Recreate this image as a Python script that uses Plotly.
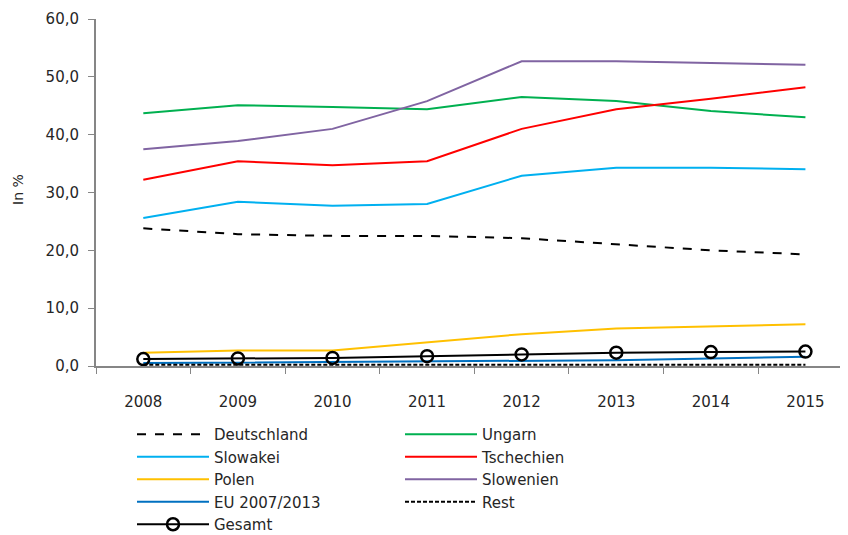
import plotly.graph_objects as go

years = ['2008', '2009', '2010', '2011', '2012', '2013', '2014', '2015']

deutschland = [23.8, 22.8, 22.5, 22.5, 22.1, 21.0, 20.0, 19.3]
ungarn = [43.7, 45.1, 44.8, 44.4, 46.5, 45.8, 44.1, 43.0]
slowakei = [25.6, 28.4, 27.7, 28.0, 32.9, 34.3, 34.3, 34.0]
tschechien = [32.2, 35.4, 34.7, 35.4, 41.0, 44.4, 46.2, 48.2]
polen = [2.3, 2.7, 2.7, 4.1, 5.5, 6.5, 6.9, 7.2]
slowenien = [37.5, 38.9, 41.0, 45.8, 52.7, 52.7, 52.4, 52.1]
eu_2007_2013 = [0.5, 0.6, 0.7, 0.8, 0.9, 1.0, 1.3, 1.6]
rest = [0.2, 0.2, 0.2, 0.2, 0.2, 0.2, 0.2, 0.2]
gesamt = [1.2, 1.3, 1.4, 1.7, 2.0, 2.3, 2.4, 2.5]

series = [
    ('Deutschland', deutschland, '#000000', 'dash'),
    ('Ungarn', ungarn, '#00B050', 'solid'),
    ('Slowakei', slowakei, '#00B0F0', 'solid'),
    ('Tschechien', tschechien, '#FF0000', 'solid'),
    ('Polen', polen, '#FFC000', 'solid'),
    ('Slowenien', slowenien, '#8064A2', 'solid'),
    ('EU 2007/2013', eu_2007_2013, '#0070C0', 'solid'),
    ('Rest', rest, '#000000', '4px,2px'),
]

FONT = 'DejaVu Sans'
TXT = '#262626'

# page body adds an 8px offset, so the figure is 8px smaller than the window
W, H = 840, 527

fig = go.Figure()
for name, vals, col, dash in series:
    fig.add_trace(go.Scatter(
        x=years, y=vals, name=name, mode='lines',
        line=dict(color=col, width=2, dash=dash),
    ))

fig.add_trace(go.Scatter(
    x=years, y=gesamt, name='Gesamt', mode='lines+markers',
    line=dict(color='#000000', width=2),
    marker=dict(symbol='circle-open', size=12, color='#000000', line=dict(width=2.5)),
))

fig.update_layout(
    width=W, height=H,
    margin=dict(l=88, r=0, t=11, b=169),
    paper_bgcolor='white', plot_bgcolor='white',
    font=dict(family=FONT, size=15, color=TXT),
    separators=', ',
    showlegend=True,
    legend=dict(
        orientation='h',
        xref='container', yref='container',
        x=124 / W, y=1 - 410 / H,
        xanchor='left', yanchor='top',
        entrywidth=181, entrywidthmode='pixels',
        itemwidth=72,
        tracegroupgap=0,
        font=dict(family=FONT, size=15, color=TXT),
        bgcolor='rgba(0,0,0,0)',
    ),
    xaxis=dict(
        type='category', range=[-0.5, 7.45], automargin=False,
        tickson='boundaries', ticks='outside', ticklen=6, tickcolor='#868686',
        showline=True, linecolor='#868686', linewidth=2,
        showgrid=False, zeroline=False,
        tickfont=dict(family=FONT, size=15, color=TXT),
        ticklabelstandoff=21,
    ),
    yaxis=dict(
        range=[0, 60], dtick=10, tickformat='.1f', automargin=False,
        ticks='outside', ticklen=6, tickcolor='#868686',
        showline=True, linecolor='#868686', linewidth=2,
        showgrid=False, zeroline=False,
        tickfont=dict(family=FONT, size=15, color=TXT),
        ticklabelstandoff=6,
    ),
    annotations=[dict(
        text='In %', textangle=-90, showarrow=False,
        xref='paper', yref='paper',
        x=(10 - 88) / 752, y=(358 - 182) / 347,
        xanchor='center', yanchor='middle',
        font=dict(family=FONT, size=14, color=TXT),
    )],
)

fig.write_html("out.html")
